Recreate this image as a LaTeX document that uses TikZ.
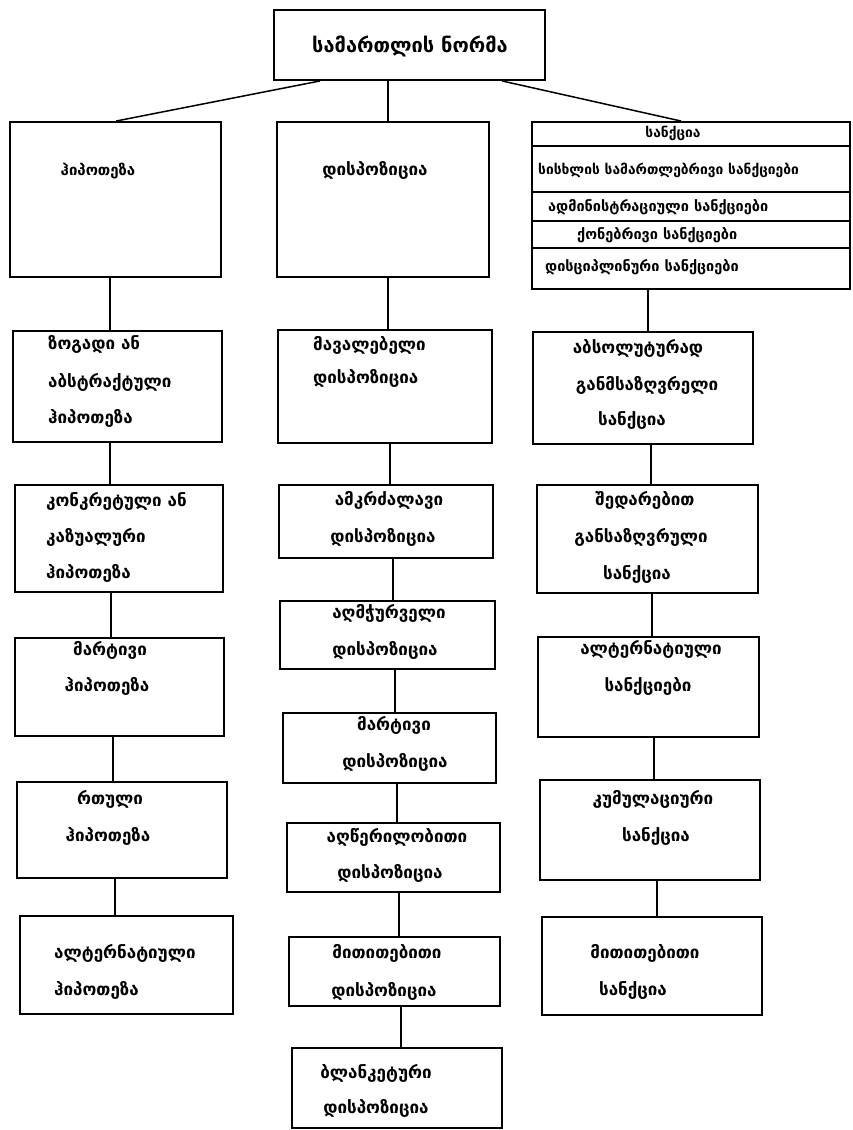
\documentclass[tikz,border=0pt]{standalone}
\usepackage{fontspec}
\setmainfont{DejaVu Sans}
\usetikzlibrary{calc,fit}
\tikzset{
  box/.style={draw, line width=1.9pt, inner sep=0pt},
  rule/.style={line width=1.6pt},
  conn/.style={line width=1.5pt},
  lbl/.style={font=\bfseries\fontsize{17}{19}\selectfont, inner sep=0pt},
  lblsm/.style={font=\bfseries\fontsize{15}{17}\selectfont, inner sep=0pt},
  row/.style={font=\bfseries\fontsize{14.5}{16}\selectfont, inner sep=0pt},
  rowtight/.style={font=\bfseries\fontsize{13.8}{16}\selectfont, inner sep=0pt},
  big/.style={font=\bfseries\fontsize{20}{22}\selectfont, inner sep=0pt},
}
% vertical link from the bottom of one box to the top of the next one
\newcommand\linkdown[3]{\draw[conn] ($(#1.south west)+(#3,0)$) coordinate (lk) -- (lk |- #2.north);}
\begin{document}
\begin{tikzpicture}[x=1pt,y=-1pt]
\useasboundingbox (0,0) rectangle (852,1130);

% root
\node[box, fit={(274,10) (545,80)}] (top) {};
\node[big] (ttop) at (410,46) {სამართლის ნორმა};

% first level
\node[box, fit={(10,122) (221,277)}] (hyp) {};
\node[lblsm] (thyp) at (98,171) {ჰიპოთეზა};
\node[box, fit={(277,122) (489,277)}] (dis) {};
\node[lbl] (tdis) at (375,170) {დისპოზიცია};
\node[box, fit={(532,122) (850,289)}] (sanc) {};
\draw[rule] (532,146) -- (850,146);
\draw[rule] (532,192) -- (850,192);
\draw[rule] (532,221) -- (850,221);
\draw[rule] (532,248) -- (850,248);
\node[rowtight] (ts0) at (673,133) {სანქცია};
\node[rowtight, anchor=west] (ts1) at (538,170) {სისხლის სამართლებრივი სანქციები};
\node[row, anchor=west] (ts2) at (548,207) {ადმინისტრაციული სანქციები};
\node[row, anchor=west] (ts3) at (577,235) {ქონებრივი სანქციები};
\node[row, anchor=west] (ts4) at (545,267) {დისციპლინური სანქციები};

\draw[conn] ($(top.south west)+(47,0)$) -- ($(hyp.north west)+(107,0)$);
\draw[conn] ($(top.south west)+(115,0)$) -- ($(dis.north west)+(112,0)$);
\draw[conn] ($(top.south west)+(229,0)$) -- ($(sanc.north west)+(150,0)$);

% hypothesis column
\node[box, fit={(13,331) (222,442)}] (hyp2) {};
\node[lbl, anchor=west] (th2a) at (48,344) {ზოგადი ან};
\node[lbl, anchor=west] (th2b) at (48,382) {აბსტრაქტული};
\node[lbl, anchor=west] (th2c) at (48,418) {ჰიპოთეზა};
\node[box, fit={(15,485) (223,592)}] (hyp3) {};
\node[lbl, anchor=west] (th3a) at (46,501) {კონკრეტული ან};
\node[lbl, anchor=west] (th3b) at (46,537) {კაზუალური};
\node[lbl, anchor=west] (th3c) at (46,573) {ჰიპოთეზა};
\node[box, fit={(15,638) (224,736)}] (hyp4) {};
\node[lbl] (th4a) at (110,650) {მარტივი};
\node[lbl] (th4b) at (107,686) {ჰიპოთეზა};
\node[box, fit={(17,782) (227,878)}] (hyp5) {};
\node[lbl] (th5a) at (110,799) {რთული};
\node[lbl] (th5b) at (108,836) {ჰიპოთეზა};
\node[box, fit={(20,916) (233,1014)}] (hyp6) {};
\node[lbl, anchor=west] (th6a) at (54,953) {ალტერნატიული};
\node[lbl, anchor=west] (th6b) at (54,990) {ჰიპოთეზა};

\linkdown{hyp}{hyp2}{101}
\linkdown{hyp2}{hyp3}{98}
\linkdown{hyp3}{hyp4}{97}
\linkdown{hyp4}{hyp5}{99}
\linkdown{hyp5}{hyp6}{99}

% disposition column
\node[box, fit={(278,330) (492,443)}] (dis2) {};
\node[lbl, anchor=west] (td2a) at (313,345) {მავალებელი};
\node[lbl, anchor=west] (td2b) at (313,378) {დისპოზიცია};
\node[box, fit={(279,485) (493,558)}] (dis3) {};
\node[lbl] (td3a) at (389,500) {ამკრძალავი};
\node[lbl] (td3b) at (383,537) {დისპოზიცია};
\node[box, fit={(280,601) (495,669)}] (dis4) {};
\node[lbl] (td4a) at (389,613) {აღმჭურველი};
\node[lbl] (td4b) at (385,650) {დისპოზიცია};
\node[box, fit={(283,713) (496,783)}] (dis5) {};
\node[lbl] (td5a) at (394,725) {მარტივი};
\node[lbl] (td5b) at (395,762) {დისპოზიცია};
\node[box, fit={(287,823) (500,892)}] (dis6) {};
\node[lbl] (td6a) at (397,837) {აღწერილობითი};
\node[lbl] (td6b) at (390,873) {დისპოზიცია};
\node[box, fit={(289,937) (500,1006)}] (dis7) {};
\node[lbl] (td7a) at (387,953) {მითითებითი};
\node[lbl] (td7b) at (384,991) {დისპოზიცია};
\node[box, fit={(292,1048) (502,1128)}] (dis8) {};
\node[lbl] (td8a) at (376,1073) {ბლანკეტური};
\node[lbl] (td8b) at (376,1108) {დისპოზიცია};

\linkdown{dis}{dis2}{112}
\linkdown{dis2}{dis3}{113}
\linkdown{dis3}{dis4}{115}
\linkdown{dis4}{dis5}{116}
\linkdown{dis5}{dis6}{115}
\linkdown{dis6}{dis7}{113}
\linkdown{dis7}{dis8}{113}

% sanction column
\node[box, fit={(533,332) (753,444)}] (s2) {};
\node[lbl] (ts2a) at (638,348) {აბსოლუტურად};
\node[lbl] (ts2b) at (647,385) {განმსაზღვრელი};
\node[lbl] (ts2c) at (632,420) {სანქცია};
\node[box, fit={(537,485) (758,593)}] (s3) {};
\node[lbl] (ts3a) at (645,500) {შედარებით};
\node[lbl] (ts3b) at (641,537) {განსაზღვრული};
\node[lbl] (ts3c) at (637,574) {სანქცია};
\node[box, fit={(538,637) (759,737)}] (s4) {};
\node[lbl] (ts4a) at (651,649) {ალტერნატიული};
\node[lbl] (ts4b) at (648,686) {სანქციები};
\node[box, fit={(540,780) (760,880)}] (s5) {};
\node[lbl] (ts5a) at (653,799) {კუმულაციური};
\node[lbl] (ts5b) at (656,836) {სანქცია};
\node[box, fit={(542,917) (762,1015)}] (s6) {};
\node[lbl] (ts6a) at (645,953) {მითითებითი};
\node[lbl] (ts6b) at (633,990) {სანქცია};

\linkdown{sanc}{s2}{117}
\linkdown{s2}{s3}{119}
\linkdown{s3}{s4}{116}
\linkdown{s4}{s5}{117}
\linkdown{s5}{s6}{118}
\end{tikzpicture}
\end{document}
